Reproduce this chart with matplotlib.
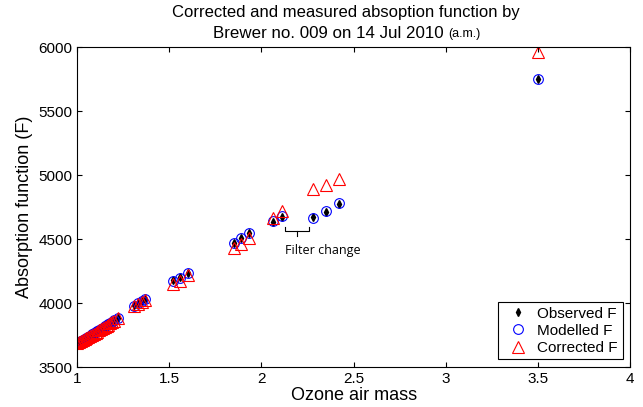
import matplotlib
matplotlib.use("Agg")
import matplotlib.pyplot as plt

plt.rcParams['font.family'] = ['Liberation Sans', 'DejaVu Sans']

# ozone air mass
airmass = [1.00, 1.01, 1.02, 1.03, 1.04, 1.05, 1.06, 1.07, 1.08, 1.09, 1.10,
           1.11, 1.12, 1.13, 1.14, 1.15, 1.16, 1.17, 1.18, 1.19, 1.20, 1.22,
           1.31, 1.33, 1.35, 1.37,
           1.52, 1.56, 1.60,
           1.85, 1.89, 1.93,
           2.06, 2.11,
           2.28, 2.35, 2.42,
           3.50]
# absorption function values
observed = [3690, 3698, 3705, 3712, 3720, 3728, 3736, 3745, 3753, 3762, 3772,
            3780, 3790, 3798, 3808, 3817, 3826, 3835, 3845, 3855, 3866, 3885,
            3985, 4000, 4015, 4030,
            4180, 4203, 4234,
            4469, 4508, 4547,
            4633, 4672,
            4672, 4711, 4773,
            5750]
modelled = [3692, 3700, 3706, 3714, 3721, 3730, 3737, 3746, 3755, 3763, 3774,
            3782, 3791, 3800, 3809, 3818, 3828, 3837, 3846, 3856, 3868, 3887,
            3975, 3998, 4018, 4035,
            4175, 4198, 4238,
            4472, 4512, 4550,
            4640, 4678,
            4664, 4718, 4780,
            5752]
corrected = [3688, 3695, 3703, 3710, 3718, 3726, 3733, 3742, 3750, 3760, 3770,
             3778, 3788, 3796, 3806, 3815, 3824, 3833, 3843, 3853, 3864, 3884,
             3980, 3995, 4010, 4028,
             4150, 4172, 4220,
             4430, 4461, 4508,
             4664, 4722,
             4890, 4922, 4969,
             5965]

fig = plt.figure(figsize=(6.43, 4.07), dpi=100)
ax = fig.add_axes([0.12, 0.098, 0.86, 0.786])

ax.plot(airmass, observed, 'd', color='black', markersize=4, label='Observed F')
ax.plot(airmass, modelled, 'o', mfc='none', mec='blue', markersize=7, mew=0.8, label='Modelled F')
ax.plot(airmass, corrected, '^', mfc='none', mec='red', markersize=8, mew=0.8, label='Corrected F')

ax.set_xlim(1, 4)
ax.set_ylim(3500, 6000)
ax.set_xticks([1, 1.5, 2, 2.5, 3, 3.5, 4])
ax.set_xticklabels(['1', '1.5', '2', '2.5', '3', '3.5', '4'])
ax.set_yticks([3500, 4000, 4500, 5000, 5500, 6000])
ax.tick_params(direction='in', top=True, right=True, labelsize=11)
ax.set_xlabel('Ozone air mass', fontsize=13, labelpad=1)
ax.set_ylabel('Absorption function (F)', fontsize=13)

# two line title, second line with a smaller "(a.m.)"
fig.text(346 / 643, 1 - 13 / 407, 'Corrected and measured absoption function by',
         fontsize=12, ha='center', va='center')
fig.text(213 / 643, 1 - 33 / 407, 'Brewer no. 009 on 14 Jul 2010',
         fontsize=12.2, ha='left', va='center')
fig.text(448 / 643, 1 - 34 / 407, '(a.m.)', fontsize=9, ha='left', va='center')

# filter change bracket
ax.plot([2.13, 2.13, 2.26, 2.26], [4594, 4565, 4565, 4594], color='black', lw=0.8)
ax.plot([2.195, 2.195], [4565, 4525], color='black', lw=0.8)
ax.text(2.33, 4410, 'Filter change', family=['Open Sans', 'DejaVu Sans'], fontsize=9, ha='center', va='center')

leg = ax.legend(loc='lower right', fontsize=11, fancybox=False, framealpha=1,
                edgecolor='black', handletextpad=0.3, borderpad=0.3, labelspacing=0.2)
leg.get_frame().set_linewidth(0.8)

fig.savefig('out.png', dpi=100)
